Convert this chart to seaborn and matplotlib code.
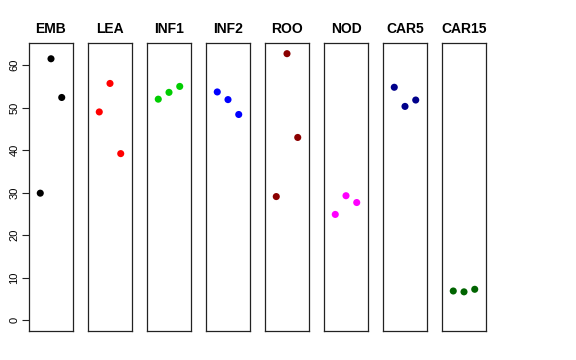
import numpy as np
import pandas as pd
import matplotlib
matplotlib.use('Agg')
import matplotlib.pyplot as plt
import seaborn as sns

sns.set_style('white')
plt.rcParams['font.family'] = ['Liberation Sans', 'DejaVu Sans']
plt.rcParams['text.color'] = 'black'
plt.rcParams['ytick.color'] = 'black'

# ── Data ──────────────────────────────────────────────────────────────────────
groups = ['EMB', 'LEA', 'INF1', 'INF2', 'ROO', 'NOD', 'CAR5', 'CAR15']
emb   = [29.9, 61.5, 52.4]
lea   = [49.0, 55.7, 39.2]
inf1  = [52.0, 53.6, 55.0]
inf2  = [53.7, 51.9, 48.4]
roo   = [29.1, 62.7, 43.0]
nod   = [24.9, 29.3, 27.7]
car5  = [54.8, 50.3, 51.8]
car15 = [6.9, 6.7, 7.3]
colors = ['black', 'red', '#00CD00', 'blue', '#8B0000', 'magenta', '#00008B', '#006400']

values = [emb, lea, inf1, inf2, roo, nod, car5, car15]
df = pd.DataFrame({
    'group': np.repeat(groups, 3),
    'rep': np.tile([1, 2, 3], len(groups)),
    'value': np.concatenate(values),
})

ymax = df['value'].max()
pad = ymax * 0.04

fig = plt.figure(figsize=(5.76, 3.6), dpi=100)
left0, step, width = 29 / 576, 59 / 576, 44 / 576
bottom, height = 1 - 331 / 360, 288 / 360

for i, (g, col) in enumerate(zip(groups, colors)):
    ax = fig.add_axes([left0 + i * step, bottom, width, height])
    sub = df[df['group'] == g]
    sns.scatterplot(data=sub, x='rep', y='value', color=col, s=26,
                    edgecolor='none', ax=ax, legend=False)
    ax.set_xlim(-0.05, 4.05)
    ax.set_ylim(0 - pad, ymax + pad)
    ax.set_xticks([])
    ax.set_xlabel(''); ax.set_ylabel('')
    ax.set_title(g, fontweight='bold', fontsize=10, pad=7, color='black')
    for sp in ax.spines.values():
        sp.set_visible(True)
        sp.set_color('#222222')
        sp.set_linewidth(0.9)
    if i == 0:
        ax.set_yticks(np.arange(0, 61, 10))
        ax.tick_params(axis='y', length=5, width=0.8, color='#222222',
                       labelsize=8, pad=2, left=True, labelcolor='black')
        for lab in ax.get_yticklabels():
            lab.set_rotation(90)
            lab.set_va('center')
    else:
        ax.set_yticks([])

plt.savefig('out.png', dpi=100)
plt.close()
